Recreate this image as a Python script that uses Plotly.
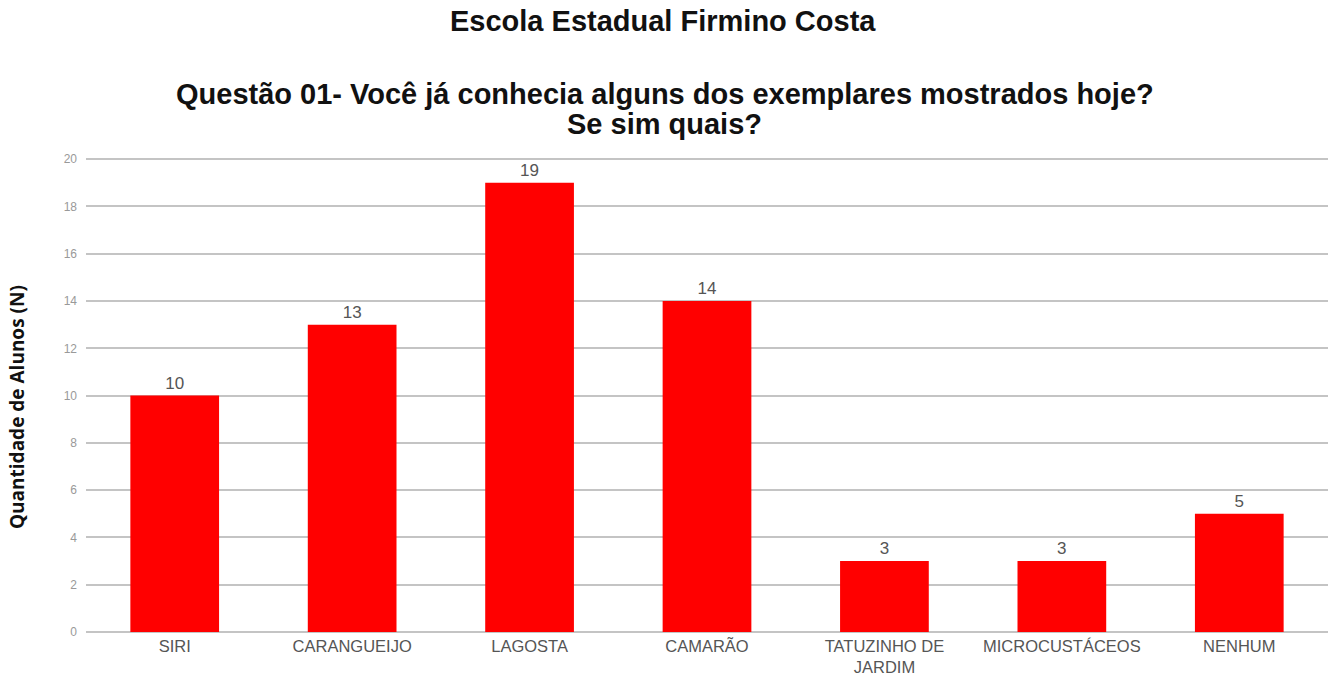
import plotly.graph_objects as go

categorias = ["SIRI", "CARANGUEIJO", "LAGOSTA", "CAMARÃO",
              "TATUZINHO DE<br>JARDIM", "MICROCUSTÁCEOS", "NENHUM"]
alunos = [10, 13, 19, 14, 3, 3, 5]
ticks_y = [0, 2, 4, 6, 8, 10, 12, 14, 16, 18, 20]

W, H = 1331, 678
ML, MR, MT, MB = 86, 3, 158, 46

fig = go.Figure(
    go.Bar(
        x=categorias,
        y=alunos,
        marker=dict(color="#ff0000", line=dict(width=0)),
        text=[str(v) for v in alunos],
        textposition="outside",
        textfont=dict(family="Liberation Sans, Arial", size=17, color="#555555"),
        cliponaxis=False,
    )
)


def px_to_paper(px_x, px_y):
    """Convert page pixel coordinates to paper coordinates of the plot area."""
    return ((px_x - ML) / (W - ML - MR), (H - MB - px_y) / (H - MT - MB))


textos = [
    ("<b>Escola Estadual Firmino Costa</b>", 663, 21, 29, "Liberation Sans, Arial", 0),
    ("<b>Questão 01- Você já conhecia alguns dos exemplares mostrados hoje?</b>",
     665, 94, 29, "Liberation Sans, Arial", 0),
    ("<b>Se sim quais?</b>", 664, 124, 29, "Liberation Sans, Arial", 0),
    ("<b>Quantidade de Alunos (N)</b>", 17, 407, 19, "Open Sans", -90),
]
anotacoes = []
for txt, px_x, px_y, size, fam, ang in textos:
    ax, ay = px_to_paper(px_x, px_y)
    anotacoes.append(dict(
        text=txt, x=ax, y=ay, xref="paper", yref="paper",
        xanchor="center", yanchor="middle", showarrow=False, textangle=ang,
        font=dict(family=fam, size=size, color="#111111"),
    ))

fig.update_layout(
    width=W,
    height=H,
    margin=dict(l=ML, r=MR, t=MT, b=MB),
    paper_bgcolor="white",
    plot_bgcolor="white",
    bargap=0.5,
    showlegend=False,
    font=dict(family="Liberation Sans, Arial"),
    annotations=anotacoes,
)

fig.update_xaxes(
    automargin=False,
    showline=False,
    showgrid=False,
    ticks="",
    ticklabelstandoff=2,
    tickfont=dict(family="Liberation Sans, Arial", size=16.5, color="#555555"),
)
fig.update_yaxes(
    automargin=False,
    range=[0, 20.05],
    tickvals=ticks_y,
    showgrid=True,
    gridcolor="#c4c4c4",
    gridwidth=2,
    zeroline=True,
    zerolinecolor="#c4c4c4",
    zerolinewidth=2,
    showline=False,
    ticks="",
    ticklabelstandoff=8,
    tickfont=dict(family="Liberation Sans, Arial", size=12, color="#999999"),
)

fig.write_html("out.html")
